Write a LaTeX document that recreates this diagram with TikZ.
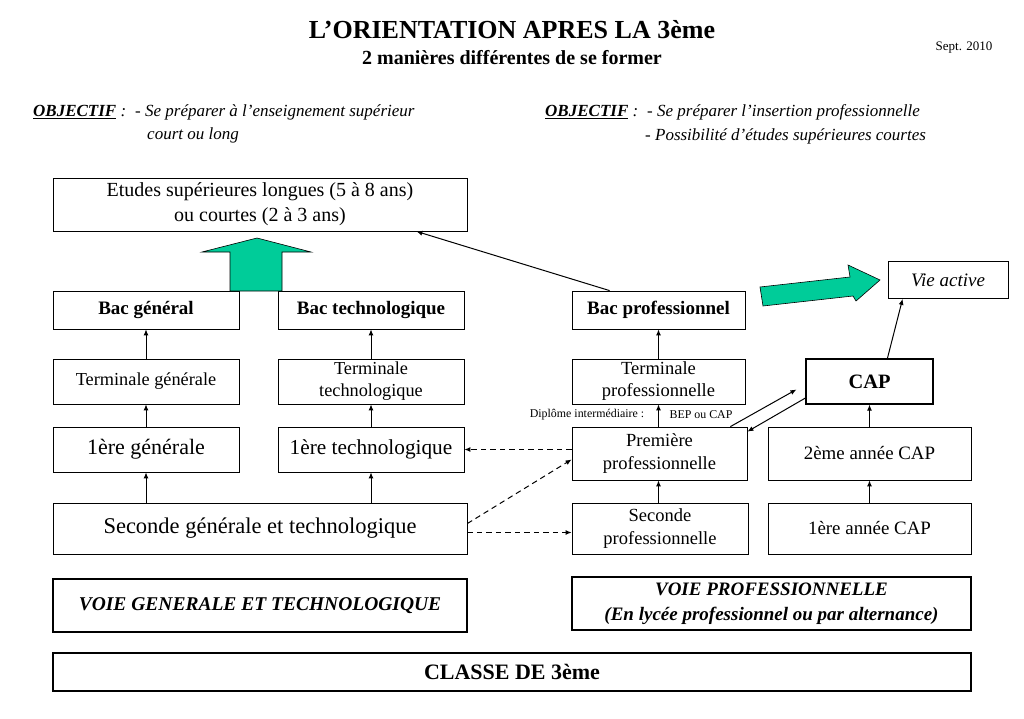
\documentclass[tikz,border=0pt]{standalone}
\usepackage{fontspec}
\setmainfont{Liberation Serif}
\usetikzlibrary{arrows.meta,calc}
\definecolor{vert}{RGB}{0,204,153}
\newcommand\fz[2]{\fontsize{#1}{#2}\selectfont}
\begin{document}
\begin{tikzpicture}[x=1pt,y=-1pt,
  box/.style={draw, line width=0.8pt, inner sep=0pt, align=center},
  thickbox/.style={box, line width=1.2pt},
  arr/.style={-{Latex[length=6pt,width=5pt]}, line width=1pt},
  darr/.style={arr, dashed, dash pattern=on 5.5pt off 4pt},
  greenarrow/.style={fill=vert, draw=black, line width=0.6pt, line join=miter}]
\fill[white] (0,0) rectangle (1024,719);
\useasboundingbox (0,0) rectangle (1024,719);

% titles
\node[font=\bfseries\fz{26}{30}] (title) at (512,30) {L’ORIENTATION APRES LA 3ème};
\node[font=\bfseries\fz{20}{24}] (sub) at (512,58) {2 manières différentes de se former};
\node[font=\fz{13}{15}] (sept) at (964,48) {Sept. 2010};

% objectives
\node[anchor=west, inner sep=0pt, font=\fz{17}{20}] (obj1) at (33,112) {\textbf{\textit{\underline{OBJECTIF}}}\textit{ :}};
\node[anchor=west, inner sep=0pt, font=\itshape\fz{17}{20}] (o1a) at (135,112) {- Se préparer à l’enseignement supérieur};
\node[anchor=west, inner sep=0pt, font=\itshape\fz{17}{20}] (o1b) at (147,135) {court ou long};
\node[anchor=west, inner sep=0pt, font=\fz{17}{20}] (obj2) at (545,112) {\textbf{\textit{\underline{OBJECTIF}}}\textit{ :}};
\node[anchor=west, inner sep=0pt, font=\itshape\fz{17}{20}] (o2a) at (647,112) {- Se préparer l’insertion professionnelle};
\node[anchor=west, inner sep=0pt, font=\itshape\fz{17}{20}] (o2b) at (645,136) {- Possibilité d’études supérieures courtes};

% boxes
\node[box, minimum width=414, minimum height=53, font=\fz{20}{25}] (etudes) at (260,204.5) {Etudes supérieures longues (5 à 8 ans)\\ou courtes (2 à 3 ans)};
\node[box, minimum width=186, minimum height=38, font=\bfseries\fz{19}{22}] (bacg) at (146,310) {Bac général};
\node[box, minimum width=186, minimum height=38, font=\bfseries\fz{19}{22}] (bact) at (371,310) {Bac technologique};
\node[box, minimum width=173, minimum height=38, font=\bfseries\fz{19}{22}] (bacp) at (658.5,310) {Bac professionnel};
\node[box, minimum width=120, minimum height=37, font=\itshape\fz{19}{22}] (vie) at (948,280) {Vie active};

\node[box, minimum width=186, minimum height=45, font=\fz{18.3}{22}] (termg) at (146,381.5) {Terminale générale};
\node[box, minimum width=186, minimum height=45, font=\fz{18.3}{22}] (termt) at (371,381.5) {Terminale\\technologique};
\node[box, minimum width=173, minimum height=45, font=\fz{18.5}{22}] (termp) at (658.5,381.5) {Terminale\\professionnelle};
\node[thickbox, minimum width=127, minimum height=45, font=\bfseries\fz{20.4}{24}] (cap) at (869.5,381.5) {CAP};

\node[box, minimum width=186, minimum height=45, font=\fz{22}{26}] (premg) at (146,449.5) {1ère générale};
\node[box, minimum width=186, minimum height=45, font=\fz{21.3}{25}] (premt) at (371,449.5) {1ère technologique};
\node[box, minimum width=175, minimum height=53, font=\fz{18.5}{23}] (premp) at (659.5,453.5) {Première\\professionnelle};
\node[box, minimum width=203, minimum height=53, font=\fz{18.9}{23}] (cap2) at (869.5,453.5) {2ème année CAP};

\node[box, minimum width=414, minimum height=51, font=\fz{22.5}{26}] (sgt) at (260,528.5) {Seconde générale et technologique};
\node[box, minimum width=176, minimum height=51, font=\fz{18.5}{23}] (spro) at (660,528.5) {Seconde\\professionnelle};
\node[box, minimum width=203, minimum height=51, font=\fz{18.9}{23}] (cap1) at (869.5,528.5) {1ère année CAP};

\node[thickbox, minimum width=414, minimum height=53, font=\bfseries\itshape\fz{19.5}{24}] (vgt) at (260,605.5) {VOIE GENERALE ET TECHNOLOGIQUE};
\node[thickbox, minimum width=399, minimum height=53, font=\bfseries\itshape\fz{19}{25}] (vpro) at (771.5,603.5) {VOIE PROFESSIONNELLE\\(En lycée professionnel ou par alternance)};
\node[thickbox, minimum width=918, minimum height=38, font=\bfseries\fz{22}{26}] (classe) at (512,672) {CLASSE DE 3ème};

% small labels
\node[font=\fz{11.9}{14}, inner sep=0pt] (dipl) at (587,415) {Diplôme intermédiaire :};
\node[font=\fz{11.9}{14}, inner sep=0pt] (bep) at (701,415) {BEP ou CAP};

% vertical arrows
\draw[arr] (sgt.north -| premg) -- (premg.south);
\draw[arr] (premg.north) -- (termg.south);
\draw[arr] (termg.north) -- (bacg.south);
\draw[arr] (sgt.north -| premt) -- (premt.south);
\draw[arr] (premt.north) -- (termt.south);
\draw[arr] (termt.north) -- (bact.south);
\draw[arr] (spro.north -| termp) -- (premp.south -| termp);
\draw[arr] (premp.north -| termp) -- (termp.south);
\draw[arr] (termp.north) -- (bacp.south);
\draw[arr] (cap1.north) -- (cap2.south);
\draw[arr] (cap2.north) -- (cap.south);

% diagonal arrows
\draw[arr] ([xshift=38pt]bacp.north west) -- ([xshift=-51pt]etudes.south east);
\draw[arr] ([xshift=82pt]cap.north west) -- ([xshift=15pt]vie.south west);
\draw[arr] ($(premp.north east)+(-17,0)$) -- ($(cap.west)+(-9,8)$);
\draw[arr] ($(cap.west)+(0,16.5)$) -- ($(premp.north east)+(0,5)$);

% dashed arrows
\draw[darr] (premt.east -| premp.west) -- (premt.east);
\draw[darr] ($(sgt.east)+(0,-5)$) -- ($(premp.west)+(0,6)$);
\draw[darr] ($(sgt.east)+(0,4)$) -- ($(spro.west)+(0,4)$);

% green arrows
\draw[greenarrow] (230,291) -- (230,252) -- (202,252) -- (257,238) -- (311,252) -- (282,252) -- (282,291) -- cycle;
\draw[greenarrow] (760,287) -- (850,277) -- (848,265) -- (880,280) -- (856,301) -- (853,296) -- (763,306) -- cycle;
\end{tikzpicture}
\end{document}
